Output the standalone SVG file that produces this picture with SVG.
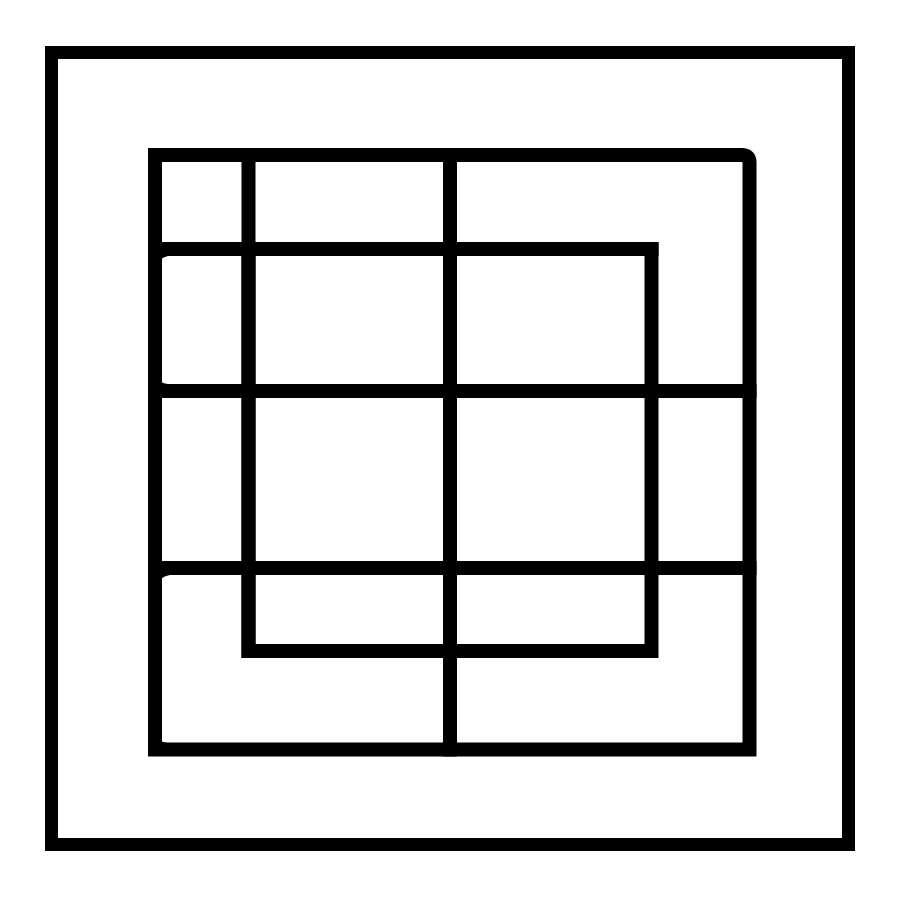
<svg xmlns="http://www.w3.org/2000/svg" width="900" height="900" viewBox="0 0 900 900">
  <style>
    .s { fill: none; stroke: #000; stroke-width: 14; stroke-linecap: square; }
    .f { fill: #000; stroke: none; }
  </style>
  <rect x="0" y="0" width="900" height="900" fill="#fff"/>
  <g id="outer-frame">
    <rect class="s" x="51.5" y="52.5" width="797" height="792" style="stroke-width:13"/>
  </g>
  <g id="inner-frame">
    <path class="s" d="M155,155 H742 Q749.5,155 749.5,162 V749.5 H155 Z" style="stroke-linecap:butt;stroke-linejoin:miter"/>
    <rect class="f" x="148" y="148" width="10" height="608"/>
  </g>
  <g id="core-square">
    <rect class="s" x="248.5" y="249" width="403" height="402"/>
  </g>
  <g id="grid-lines">
    <line class="s" x1="155" y1="249" x2="651.5" y2="249"/>
    <line class="s" x1="155" y1="391" x2="749.5" y2="391"/>
    <line class="s" x1="155" y1="568" x2="749.5" y2="568"/>
    <line class="s" x1="248.5" y1="155" x2="248.5" y2="651"/>
    <line class="s" x1="450" y1="155" x2="450" y2="749.5"/>
  </g>
  <g id="corner-fills">
    <path class="f" d="M157,256 H168 Q158,258 158,268 V256 Z"/>
    <path class="f" d="M157,384 V376 Q159,383 168,384 Z"/>
    <path class="f" d="M157,575 H170 Q158,577 158,588 V575 Z"/>
    <path class="f" d="M157,743 V735 Q159,742 168,743 Z"/>
  </g>
</svg>
